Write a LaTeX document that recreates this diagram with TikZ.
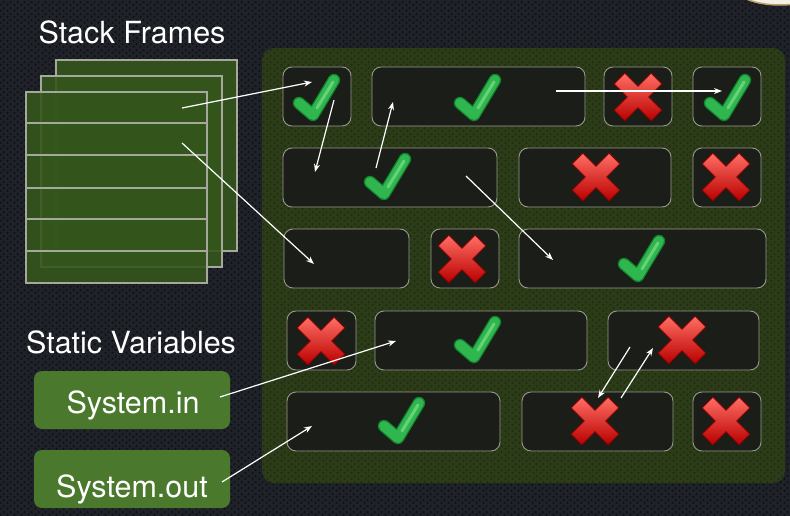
\documentclass[tikz,border=0pt]{standalone}
\usepackage{fontspec}
\setmainfont{TeX Gyre Heros}
\usetikzlibrary{arrows.meta,patterns.meta}

\definecolor{bgcol}{RGB}{31,34,40}
\definecolor{holecol}{RGB}{14,16,20}
\definecolor{panelcol}{RGB}{44,60,24}
\definecolor{panelhole}{RGB}{31,44,16}
\definecolor{cellfill}{RGB}{27,29,25}
\definecolor{celledge}{RGB}{150,152,140}
\definecolor{framefill}{RGB}{52,86,28}
\definecolor{frameedge}{RGB}{165,168,155}
\definecolor{varfill}{RGB}{74,120,44}
\definecolor{chkdark}{RGB}{18,130,45}
\definecolor{chkmain}{RGB}{48,182,78}
\definecolor{chklight}{RGB}{140,228,150}
\definecolor{crsdark}{RGB}{140,0,0}
\definecolor{crstop}{RGB}{255,110,100}
\definecolor{crsmid}{RGB}{236,24,10}
\definecolor{crsbot}{RGB}{185,0,0}
\definecolor{logoedge}{RGB}{190,160,110}
\definecolor{logofill}{RGB}{245,240,228}

% honeycomb of small holes used for the textured surfaces
\tikzdeclarepattern{
  name=hexholes,
  bounding box={(0pt,0pt) and (7pt,6pt)},
  tile size={(7pt,6pt)},
  code={
    \fill (1.75pt,1.5pt) circle [radius=1.3pt];
    \fill (5.25pt,4.5pt) circle [radius=1.3pt];
  }
}

\tikzset{
  cellbox/.style={draw=celledge, line width=0.9pt, fill=cellfill,
    rounded corners=9pt, inner sep=0pt},
  framebox/.style={draw=frameedge, line width=1.2pt, fill=framefill,
    fill opacity=0.9, inner sep=0pt},
  varbox/.style={fill=varfill, rounded corners=8pt, inner sep=0pt},
  bigtext/.style={text=white, font=\fontsize{30.5}{36}\selectfont, inner sep=0pt},
  link/.style={draw=white, line width=1.2pt, -{Stealth[length=8pt,width=6pt]}},
  chk/.pic={
    \draw[chkdark, line width=12.5pt, line cap=round, line join=round]
      (-17,6) -- (-3,18) -- (18,-17);
    \draw[chkmain, line width=10pt, line cap=round, line join=round]
      (-17,6) -- (-3,18) -- (18,-17);
    \draw[chklight, line width=3pt, line cap=round, opacity=0.6]
      (1,11) -- (17,-15);
  },
  crs/.pic={
    \shade[top color=crstop, middle color=crsmid, bottom color=crsbot,
      draw=crsdark, line width=0.8pt]
      (0,-10.6) -- (13.2,-23.8) -- (23.8,-13.2) -- (10.6,0) -- (23.8,13.2)
      -- (13.2,23.8) -- (0,10.6) -- (-13.2,23.8) -- (-23.8,13.2) -- (-10.6,0)
      -- (-23.8,-13.2) -- (-13.2,-23.8) -- cycle;
  },
}

\newcommand\cellat[5]{%
  \node[cellbox, minimum width={(#4-#2)*1pt}, minimum height={(#5-#3)*1pt}]
    (#1) at ({(#2+#4)/2},{(#3+#5)/2}) {};}

\begin{document}
\begin{tikzpicture}[x=1pt, y=-1pt]
\useasboundingbox (0,0) rectangle (790,516);

% textured backdrop
\fill[bgcol] (0,0) rectangle (790,516);
\fill[pattern=hexholes, pattern color=holecol] (0,0) rectangle (790,516);

% badge peeking in at the top right
\draw[logoedge, fill=logofill, line width=1.5pt] (780,-14) ellipse [x radius=46, y radius=19];

% heap area
\node[fill=panelcol, rounded corners=12pt, inner sep=0pt,
  minimum width=523pt, minimum height=435pt] (heap) at (523.5,265.5) {};
\fill[pattern=hexholes, pattern color=panelhole, rounded corners=12pt]
  (262,48) rectangle (785,483);

% heap objects
\cellat{A}{283}{67}{351}{126}
\cellat{B}{372}{67}{585}{126}
\cellat{C}{604}{67}{672}{126}
\cellat{D}{693}{67}{761}{126}
\cellat{E}{283}{148}{497}{207}
\cellat{F}{519}{148}{671}{207}
\cellat{G}{693}{148}{761}{207}
\cellat{H}{284}{229}{409}{288}
\cellat{I}{431}{229}{499}{288}
\cellat{J}{519}{229}{766}{288}
\cellat{K}{287}{311}{356}{370}
\cellat{L}{375}{311}{587}{370}
\cellat{M}{608}{311}{759}{370}
\cellat{N}{287}{392}{500}{451}
\cellat{O}{522}{392}{673}{451}
\cellat{P}{693}{392}{761}{451}

% reachable / unreachable marks
\pic at (316,97) {chk};
\pic at (477,97) {chk};
\pic at (638,97) {crs};
\pic at (727,97) {chk};
\pic at (387,176) {chk};
\pic at (596,177) {crs};
\pic at (726,177) {crs};
\pic at (462,259) {crs};
\pic at (641,258) {chk};
\pic at (321,341) {crs};
\pic at (477,339) {chk};
\pic at (682,340) {crs};
\pic at (401,420) {chk};
\pic at (595,421) {crs};
\pic at (726,421) {crs};

% stack frames
\node[framebox, minimum width=181pt, minimum height=191pt] (frame3) at (146.5,155.5) {};
\node[framebox, minimum width=181pt, minimum height=191pt] (frame2) at (131.5,171.5) {};
\node[framebox, minimum width=181pt, minimum height=191pt] (frame1) at (116.5,187.5) {};
\foreach \yy in {123,155,188,219,251}
  \draw[frameedge, line width=1.2pt] (26,\yy) -- (207,\yy);

% titles
\node[bigtext] (stackhead) at (132,32) {Stack Frames};
\node[bigtext] (statichead) at (131,342) {Static Variables};

% static variables
\node[varbox, minimum width=196pt, minimum height=58pt] (sysin) at (132,400) {};
\node[bigtext, anchor=base] (sysinlabel) at (133,413) {System.in};
\node[varbox, minimum width=196pt, minimum height=58pt] (sysout) at (132,479) {};
\node[bigtext, anchor=base] (sysoutlabel) at (132,497) {System.out};

% reference endpoints
\coordinate (f1) at (182,108);  \coordinate (a1) at (312,82);
\coordinate (f2) at (182,143);  \coordinate (h1) at (314,264);
\coordinate (a2) at (334,100);  \coordinate (e1) at (315,172);
\coordinate (e2) at (376,168);  \coordinate (b1) at (393,102);
\coordinate (b2) at (556,91);   \coordinate (d1) at (722,91);
\coordinate (e3) at (466,176);  \coordinate (j1) at (553,260);
\coordinate (si) at (220,397);  \coordinate (l1) at (396,341);
\coordinate (so) at (222,482);  \coordinate (n1) at (312,426);
\coordinate (m1) at (630,347);  \coordinate (o1) at (598,398);
\coordinate (o2) at (621,398);  \coordinate (m2) at (653,348);

% references
\draw[link] (f1) -- (a1);
\draw[link] (f2) -- (h1);
\draw[link] (a2) -- (e1);
\draw[link] (e2) -- (b1);
\draw[link] (b2) -- (d1);
\draw[link] (e3) -- (j1);
\draw[link] (si) -- (l1);
\draw[link] (so) -- (n1);
\draw[link] (m1) -- (o1);
\draw[link] (o2) -- (m2);
\end{tikzpicture}
\end{document}
